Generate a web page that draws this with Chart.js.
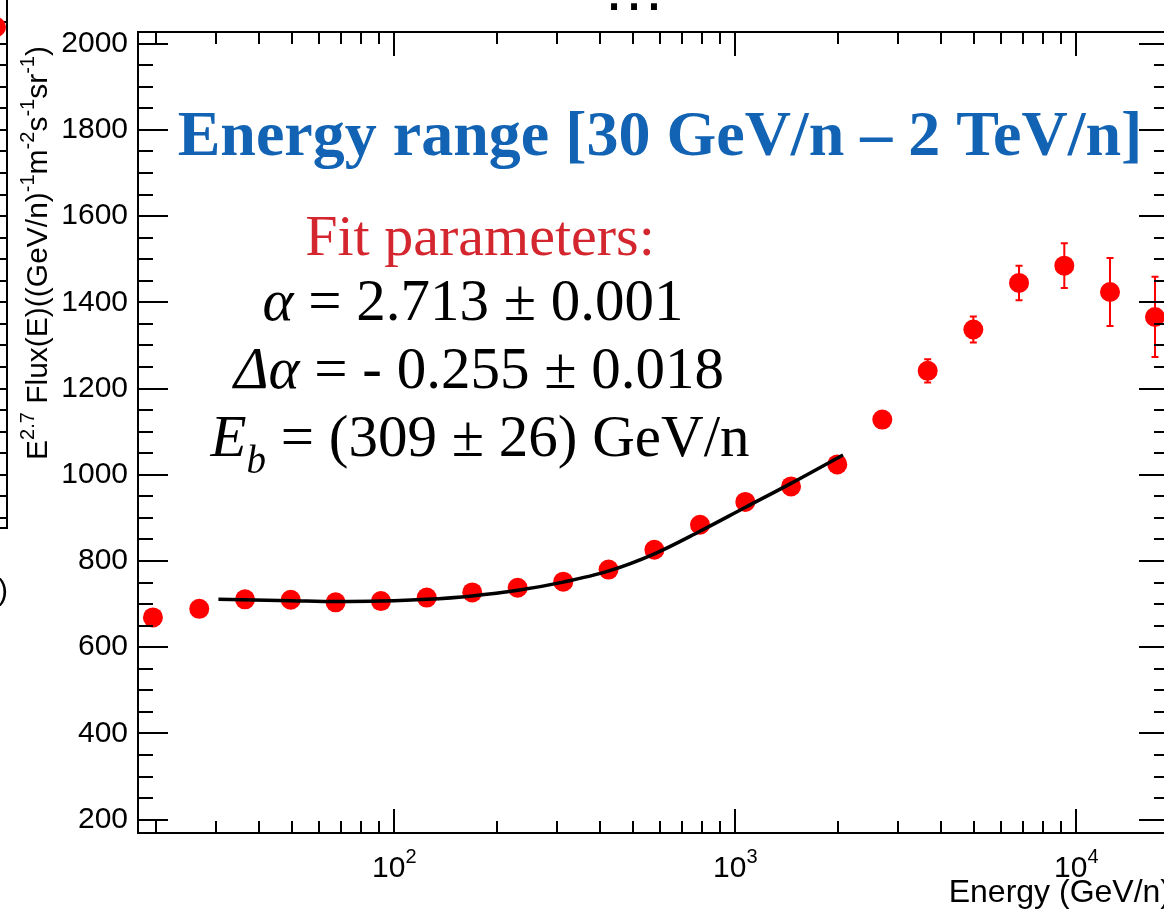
<!DOCTYPE html>
<html>
<head>
<meta charset="utf-8">
<script src="https://cdn.jsdelivr.net/npm/chart.js@4.4.0/dist/chart.umd.min.js"></script>
<style>
  html, body { margin: 0; padding: 0; background: #fff; overflow: hidden; }
  #wrap { position: absolute; left: 0; top: 0; width: 1200px; height: 911px; }
</style>
</head>
<body>
<div id="wrap"><canvas id="flux" width="1200" height="911"></canvas></div>
<script>
// measured spectrum: kinetic energy per nucleon (GeV/n) vs E^2.7 * flux
const energy = [19.6, 26.8, 36.5, 49.7, 67.3, 91.4, 124.5, 169.3, 230, 313, 425, 579, 788, 1070, 1457, 1991, 2698, 3666, 4989, 6793, 9222, 12556, 17013];
const flux = [669, 689, 711, 710, 704, 707, 715, 727, 738, 752, 780, 826, 884, 937, 973, 1024, 1128, 1241, 1337, 1445, 1485, 1424, 1366];
const fluxErr = [0, 0, 0, 0, 0, 0, 0, 0, 0, 0, 0, 0, 0, 0, 0, 0, 12, 27, 30, 40, 52, 79, 93];

// smoothly broken power-law fit, 30 GeV/n - 2 TeV/n
const fitEnergy = [30.5, 49.7, 67.4, 91.4, 124.5, 169.2, 230.3, 312.8, 426, 577, 788, 1068, 1457, 2070];
const fitFlux = [711, 708, 706, 707, 711, 719, 732, 751, 777, 816, 869, 924, 980, 1046];

// axis ticks
const yMajorTicks = [200, 400, 600, 800, 1000, 1200, 1400, 1600, 1800, 2000];
const xDecades = [100, 1000, 10000];
const xDecadeLabels = [['10', '2'], ['10', '3'], ['10', '4']];

const yMinorTicks = [];
for (let v = 200; v <= 2000; v += 50) if (v % 200 !== 0) yMinorTicks.push(v);
const xMinorTicks = [];
[10, 100, 1000].forEach(d => { for (let k = 2; k <= 9; k++) xMinorTicks.push(k * d); });

const SANS = '"Liberation Sans", Arial, sans-serif';
const SERIF = '"Liberation Serif", "Times New Roman", serif';

// draws a run of text pieces (font / vertical shift) as one line
function richWidth(ctx, parts) {
    let w = 0;
    parts.forEach(p => { ctx.font = p.f; w += ctx.measureText(p.t).width; });
    return w;
}
function drawRich(ctx, parts, x, y, align) {
    const w = richWidth(ctx, parts);
    let cx = align === 'center' ? x - w / 2 : align === 'right' ? x - w : x;
    ctx.textAlign = 'left';
    ctx.textBaseline = 'alphabetic';
    parts.forEach(p => {
        ctx.font = p.f;
        ctx.fillText(p.t, cx, y + (p.dy || 0));
        cx += ctx.measureText(p.t).width;
    });
}

const errorBars = {
    id: 'errorBars',
    beforeDatasetsDraw(chart) {
        const { ctx, scales: { x, y } } = chart;
        ctx.save();
        ctx.strokeStyle = '#ff0000';
        ctx.lineWidth = 2;
        ctx.beginPath();
        energy.forEach((e, i) => {
            if (!fluxErr[i]) return;
            const px = x.getPixelForValue(e);
            const lo = y.getPixelForValue(flux[i] - fluxErr[i]);
            const hi = y.getPixelForValue(flux[i] + fluxErr[i]);
            ctx.moveTo(px, lo); ctx.lineTo(px, hi);
            ctx.moveTo(px - 3.5, lo); ctx.lineTo(px + 3.5, lo);
            ctx.moveTo(px - 3.5, hi); ctx.lineTo(px + 3.5, hi);
        });
        ctx.stroke();
        ctx.restore();
    }
};

// closed frame with inward ticks on all four sides, like a ROOT canvas
const axisFrame = {
    id: 'axisFrame',
    afterDatasetsDraw(chart) {
        const { ctx, chartArea: a, scales: { x, y } } = chart;
        ctx.save();
        ctx.strokeStyle = '#000';
        ctx.lineWidth = 2;
        ctx.strokeRect(a.left, a.top, a.right - a.left, a.bottom - a.top);
        ctx.beginPath();
        const yTick = (v, len) => {
            const py = Math.round(y.getPixelForValue(v));
            ctx.moveTo(a.left, py); ctx.lineTo(a.left + len, py);
            ctx.moveTo(a.right, py); ctx.lineTo(a.right - len, py);
        };
        const xTick = (v, len) => {
            const px = Math.round(x.getPixelForValue(v));
            ctx.moveTo(px, a.bottom); ctx.lineTo(px, a.bottom - len);
            ctx.moveTo(px, a.top); ctx.lineTo(px, a.top + len);
        };
        yMajorTicks.forEach(v => yTick(v, 30));
        yMinorTicks.forEach(v => yTick(v, 15));
        xDecades.forEach(v => xTick(v, 24));
        xMinorTicks.forEach(v => xTick(v, 12));
        ctx.stroke();

        // decade labels 10^n
        ctx.fillStyle = '#000';
        xDecades.forEach((v, i) => {
            const [base, exp] = xDecadeLabels[i];
            drawRich(ctx, [
                { t: base, f: '30px ' + SANS },
                { t: exp, f: '20px ' + SANS, dy: -14 }
            ], x.getPixelForValue(v), 877, 'center');
        });

        // axis titles
        drawRich(ctx, [{ t: 'Energy (GeV/n)', f: '32px ' + SANS }], 1171, 902, 'right');

        ctx.save();
        ctx.translate(47, 460);
        ctx.rotate(-Math.PI / 2);
        const big = '30px ' + SANS, sup = '20px ' + SANS;
        drawRich(ctx, [
            { t: 'E', f: big }, { t: '2.7', f: sup, dy: -13 },
            { t: ' Flux(E)((GeV/n)', f: big }, { t: '-1', f: sup, dy: -13 },
            { t: 'm', f: big }, { t: '-2', f: sup, dy: -13 },
            { t: 's', f: big }, { t: '-1', f: sup, dy: -13 },
            { t: 'sr', f: big }, { t: '-1', f: sup, dy: -13 },
            { t: ')', f: big }
        ], 0, 0, 'left');
        ctx.restore();
        ctx.restore();
    }
};

const notes = {
    id: 'notes',
    afterDraw(chart) {
        const { ctx, scales: { y } } = chart;
        ctx.save();
        ctx.fillStyle = '#1263b3';
        drawRich(ctx, [{ t: 'Energy range [30 GeV/n \u2013 2 TeV/n]', f: 'bold 64px ' + SERIF }], 660, 155, 'center');

        ctx.fillStyle = '#d4262e';
        drawRich(ctx, [{ t: 'Fit parameters:', f: '58px ' + SERIF }], 480, 255, 'center');

        ctx.fillStyle = '#000';
        const reg = '59px ' + SERIF, it = 'italic 59px ' + SERIF;
        drawRich(ctx, [{ t: '\u03b1', f: it }, { t: ' = 2.713 \u00b1 0.001', f: reg }], 473, 320, 'center');
        drawRich(ctx, [{ t: '\u0394\u03b1', f: it }, { t: ' = - 0.255 \u00b1 0.018', f: reg }], 479, 388, 'center');
        drawRich(ctx, [
            { t: 'E', f: it }, { t: 'b', f: 'italic 39px ' + SERIF, dy: 17 },
            { t: ' = (309 \u00b1 26) GeV/n', f: reg }
        ], 480, 456, 'center');

        // edge of the neighbouring panel and slide leftovers
        ctx.strokeStyle = '#000';
        ctx.lineWidth = 2;
        ctx.beginPath();
        ctx.moveTo(7, 0); ctx.lineTo(7, 528); ctx.lineTo(0, 528);
        for (let v = 900; v <= 2050; v += 50) {
            const py = Math.round(y.getPixelForValue(v));
            ctx.moveTo(0, py); ctx.lineTo(7, py);
        }
        ctx.stroke();
        ctx.fillStyle = '#ff0000';
        ctx.beginPath(); ctx.arc(-4, 27, 10, 0, Math.PI * 2); ctx.fill();
        ctx.fillStyle = '#000';
        ctx.font = '30px ' + SANS;
        ctx.textAlign = 'left';
        ctx.fillText(')', -2, 600);
        ctx.font = '63px ' + SANS;
        ctx.textAlign = 'center';
        ctx.fillText('\u2026', 634, 10);
        ctx.restore();
    }
};

const points = energy.map((e, i) => ({ x: e, y: flux[i] }));
const fitLine = fitEnergy.map((e, i) => ({ x: e, y: fitFlux[i] }));

// eslint-disable-next-line
const chart = new Chart(document.getElementById('flux'), {
    data: {
        datasets: [{
            type: 'line',
            label: 'fit',
            data: fitLine,
            borderColor: '#000',
            borderWidth: 3.5,
            pointRadius: 0,
            cubicInterpolationMode: 'monotone',
            order: 0
        }, {
            type: 'scatter',
            label: 'data',
            data: points,
            backgroundColor: '#ff0000',
            borderWidth: 0,
            pointRadius: 10,
            order: 1
        }]
    },
    options: {
        responsive: false,
        animation: false,
        layout: { padding: { left: 0, right: 31, top: 32, bottom: 78 } },
        plugins: { legend: { display: false }, tooltip: { enabled: false } },
        scales: {
            x: {
                type: 'logarithmic',
                min: 17.72,
                max: 18700,
                display: false
            },
            y: {
                type: 'linear',
                min: 169,
                max: 2027,
                grid: { display: false },
                border: { display: false },
                ticks: {
                    stepSize: 200,
                    includeBounds: false,
                    color: '#000',
                    padding: 2,
                    font: { family: 'Liberation Sans', size: 30 },
                    callback: v => String(v)
                },
                afterFit(scale) { scale.width = 138; }
            }
        }
    },
    plugins: [errorBars, axisFrame, notes]
});
</script>
</body>
</html>
